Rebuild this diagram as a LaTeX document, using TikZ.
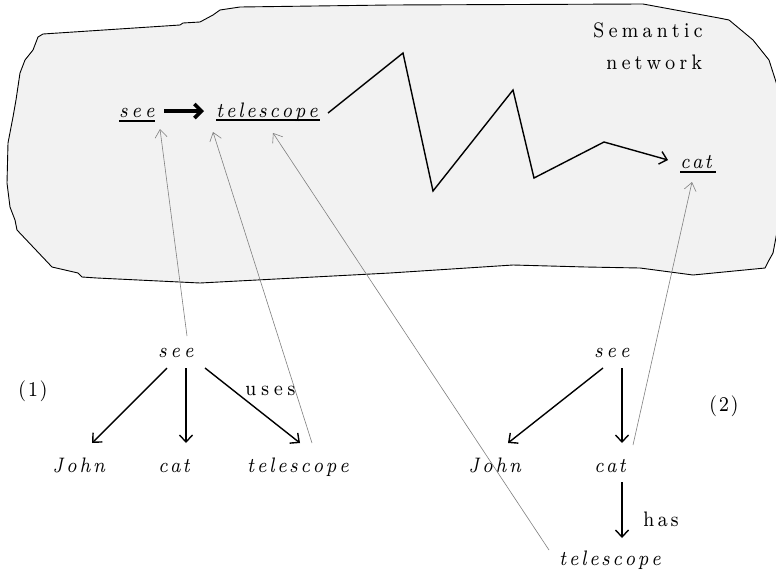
\documentclass[tikz,border=0pt]{standalone}
\usepackage{graphicx}
\usetikzlibrary{arrows.meta}
\makeatletter
\newcommand\spc[2][2.4pt]{\@tfor\@spcch:=#2\do{\scalebox{0.86}[1]{\@spcch}\kern#1}}
\makeatother
\font\netit="[lmroman7-italic.otf]" at 21pt
\font\netrm="[lmroman7-regular.otf]" at 21pt
\begin{document}
\begin{tikzpicture}[x=1pt,y=-1pt,
  lbl/.style={inner sep=0pt, anchor=base west, font=\netit},
  rlbl/.style={inner sep=0pt, anchor=base west, font=\netrm},
  arr/.style={line width=1.4pt, -{Straight Barb[length=7pt,width=13pt]}},
  garr/.style={line width=0.6pt, draw=black!50, -{Straight Barb[length=8pt,width=12pt]}},
  bigarr/.style={line width=3.6pt, -{Straight Barb[length=7pt,width=14pt]}},
  uline/.style={line width=1.6pt},
  blob/.style={draw=black, line width=0.9pt, fill=black!5}]
\useasboundingbox (0,0) rectangle (776,571);
\fill[white] (0,0) rectangle (776,571);
% semantic network area
\path[blob] (43,34) -- (180,25) -- (183,23) -- (200,22) -- (213,15) -- (220,10) -- (240,7) -- (390,5) -- (643,4) -- (719,18) -- (729,20) -- (753,40) -- (769,60) -- (777,85) -- (777,232) -- (773,253) -- (768,262) -- (765,268) -- (693,275) -- (640,268) -- (586,267) -- (513,265) -- (390,273) -- (200,283) -- (97,278) -- (82,277) -- (78,273) -- (52,267) -- (17,230) -- (15,220) -- (10,207) -- (7,183) -- (8,143) -- (13,117) -- (16,100) -- (20,73) -- (25,60) -- (33,50) -- (38,37) -- cycle;
\node[rlbl] (sem) at (593,37) {\spc[3.9pt]{Semantic}};
\node[rlbl] (netw) at (606,69) {\spc[3.9pt]{network}};
\node[lbl] (nsee) at (119,117) {\spc[3.5pt]{see}};
\node[lbl] (ntel) at (216,117) {\spc[2.4pt]{telescope}};
\node[lbl] (ncat) at (680,168) {\spc[1.8pt]{cat}};
\draw[uline] ([shift={(0,4)}]nsee.base west) -- ([shift={(36,4)}]nsee.base west);
\draw[uline] ([shift={(0,3)}]ntel.base west) -- ([shift={(104,3)}]ntel.base west);
\draw[uline] ([shift={(0,4)}]ncat.base west) -- ([shift={(36,4)}]ncat.base west);
\draw[bigarr] ([shift={(45,-6)}]nsee.base west) -- ([shift={(-12,-6)}]ntel.base west);
\draw[arr] ([shift={(112,-4)}]ntel.base west) -- (403,53) -- (433,191) -- (513,90) -- (534,178) -- (604,142) -- ([shift={(-12,-8)}]ncat.base west);
% tree 1
\node[lbl] (t1see) at (158,357) {\spc[3.5pt]{see}};
\node[lbl] (t1john) at (52,472) {\spc[2.7pt]{John}};
\node[lbl] (t1cat) at (158,472) {\spc[1.8pt]{cat}};
\node[lbl] (t1tel) at (247,472) {\spc[2.4pt]{telescope}};
\node[rlbl] (one) at (18,396) {\spc[1.6pt]{(1)}};
\draw[arr] ([shift={(9,11)}]t1see.base west) -- ([shift={(40,-29)}]t1john.base west);
\draw[arr] ([shift={(28,11)}]t1see.base west) -- ([shift={(28,-29)}]t1cat.base west);
\draw[arr] ([shift={(47,11)}]t1see.base west) -- ([shift={(53,-29)}]t1tel.base west);
\node[rlbl] (uses) at (245,395) {\spc[4.5pt]{uses}};
% tree 2
\node[lbl] (t2see) at (594,357) {\spc[3.5pt]{see}};
\node[lbl] (t2john) at (468,472) {\spc[2.7pt]{John}};
\node[lbl] (t2cat) at (594,472) {\spc[1.8pt]{cat}};
\node[lbl] (t2tel) at (559,565) {\spc[2.4pt]{telescope}};
\node[rlbl] (two) at (709,411) {\spc[1.6pt]{(2)}};
\draw[arr] ([shift={(9,11)}]t2see.base west) -- ([shift={(40,-29)}]t2john.base west);
\draw[arr] ([shift={(28,11)}]t2see.base west) -- ([shift={(28,-29)}]t2cat.base west);
\draw[arr] ([shift={(28,10)}]t2cat.base west) -- ([shift={(63,-27)}]t2tel.base west);
\node[rlbl] (has) at (643,526) {\spc[2.9pt]{has}};
% grey links to the network
\draw[garr] ([shift={(29,-21)}]t1see.base west) -- ([shift={(41,12)}]nsee.base west);
\draw[garr] ([shift={(65,-29)}]t1tel.base west) -- ([shift={(-3,15)}]ntel.base west);
\draw[garr] ([shift={(-10,-15)}]t2tel.base west) -- ([shift={(57,16)}]ntel.base west);
\draw[garr] ([shift={(39,-27)}]t2cat.base west) -- ([shift={(12,14)}]ncat.base west);
\end{tikzpicture}
\end{document}
